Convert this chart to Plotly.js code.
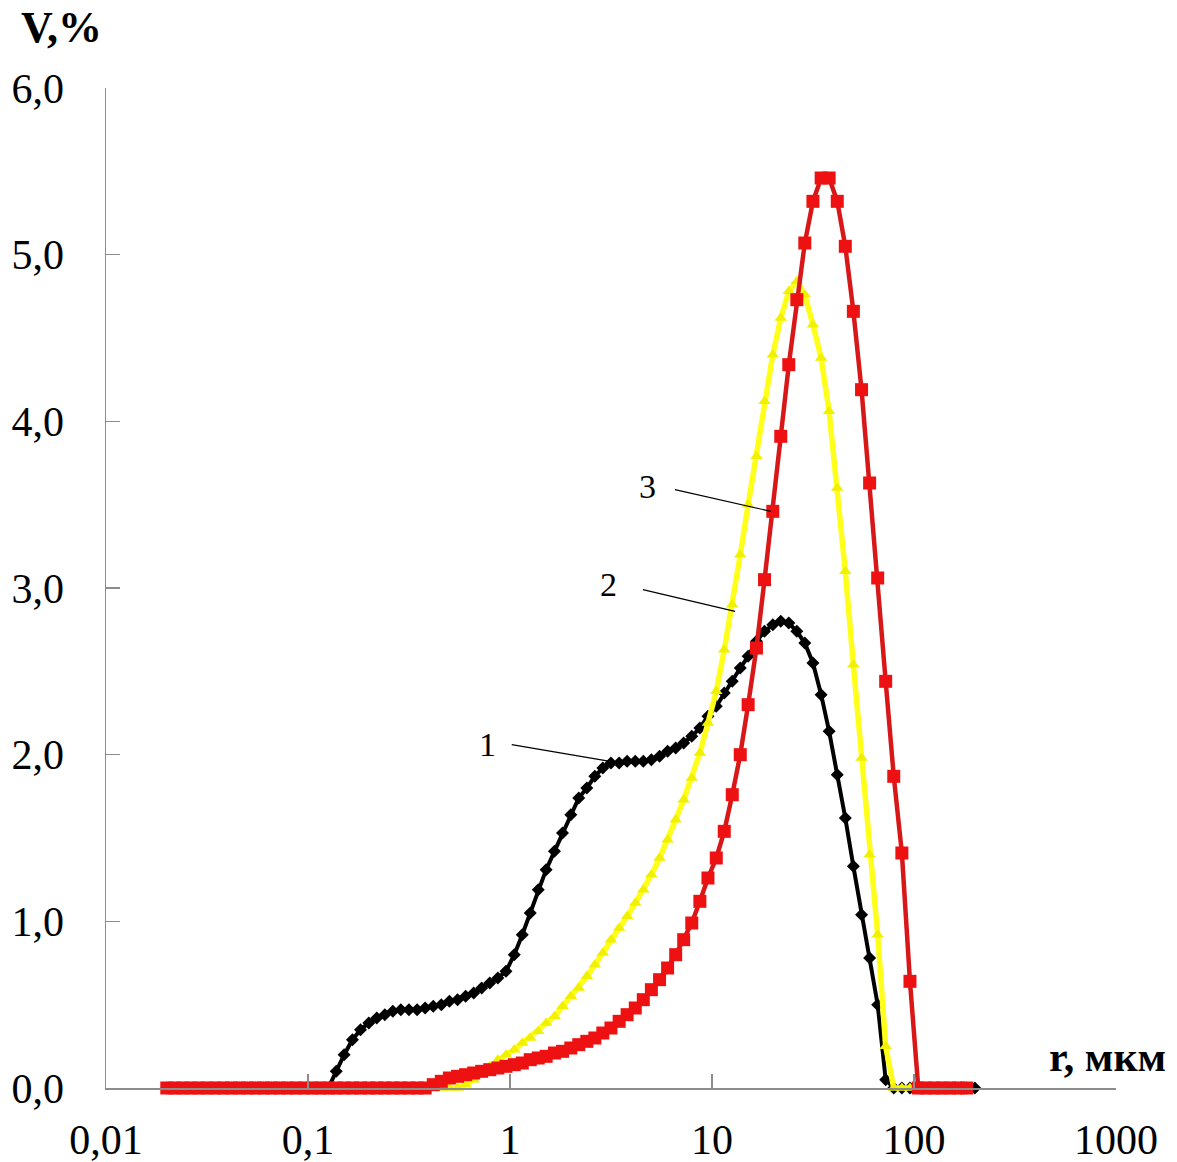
<!DOCTYPE html>
<html>
<head>
<meta charset="utf-8">
<script src="https://cdn.plot.ly/plotly-3.0.1.min.js"></script>
<style>html,body{margin:0;padding:0;background:#fff;}</style>
</head>
<body>
<div id="chart" style="width:1177px;height:1162px;"></div>
<script>
// particle radius, µm (log-spaced analyser bins)
const r = [0.0200,0.0219,0.0240,0.0263,0.0288,0.0316,0.0347,0.0380,0.0417,0.0457,0.0501,0.0550,0.0603,0.0661,0.0724,0.0794,0.0871,0.0955,
  0.105,0.115,0.126,0.138,0.151,0.166,0.182,0.200,0.219,0.240,0.263,0.288,0.316,0.347,0.380,0.417,0.457,0.501,0.550,0.603,0.661,0.724,0.794,0.871,0.955,
  1.05,1.15,1.26,1.38,1.51,1.66,1.82,2.00,2.19,2.40,2.63,2.88,3.16,3.47,3.80,4.17,4.57,5.01,5.50,6.03,6.61,7.24,7.94,8.71,9.55,
  10.5,11.5,12.6,13.8,15.1,16.6,18.2,20.0,21.9,24.0,26.3,28.8,31.6,34.7,38.0,41.7,45.7,50.1,55.0,60.3,66.1,72.4,79.4,87.1,95.5,
  105,115,126,138,151,166,182,200];

// curve 1 (black), V %
const v1 = [0,0,0,0,0,0,0,0,0,0,0,0,0,0,0,0,0,0,0,0,0,
  0.10,0.20,0.29,0.35,0.39,0.42,0.44,0.46,0.47,0.47,0.47,0.48,0.49,0.50,0.52,0.53,0.55,0.57,0.60,0.63,0.66,0.70,
  0.80,0.92,1.05,1.19,1.31,1.42,1.53,1.64,1.74,1.80,1.87,1.92,1.95,1.95,1.96,1.96,1.96,1.97,1.99,2.02,2.04,2.07,2.11,2.16,2.23,2.29,2.37,2.44,2.52,2.59,
  2.68,2.74,2.78,2.80,2.79,2.74,2.67,2.55,2.36,2.14,1.88,1.62,1.33,1.04,0.78,0.50,0.05,
  0,0,0,0,0,0,0,0,0,0,0];

// curve 2 (yellow), V %
const v2 = [0,0,0,0,0,0,0,0,0,0,0,0,0,0,0,0,0,0,0,0,0,0,0,0,0,0,0,0,0,0,0,0,0,0,0,0,0,
  0.02,0.05,0.09,0.13,0.17,0.20,0.23,0.27,0.30,0.34,0.39,0.43,0.49,0.55,0.60,0.67,0.74,0.81,0.89,0.96,1.03,1.11,1.19,1.28,1.38,1.49,1.61,1.73,1.86,2.01,2.19,2.38,2.63,2.90,3.20,3.50,3.79,4.12,4.40,4.62,4.78,4.84,4.76,4.58,4.38,4.06,3.60,3.10,2.54,1.98,1.40,0.92,0.25,
  0,0,0,0,0,0,0,0,0,0,null];

// curve 3 (red), V %
const v3 = [0,0,0,0,0,0,0,0,0,0,0,0,0,0,0,0,0,0,0,0,0,0,0,0,0,0,0,0,0,0,0,0,0,
  0.02,0.04,0.06,0.07,0.08,0.09,0.10,0.11,0.12,0.13,0.14,0.15,0.17,0.18,0.19,0.21,0.22,0.24,0.26,0.28,0.30,0.33,0.36,0.40,0.44,0.48,0.53,0.59,0.65,0.72,0.80,0.89,0.99,1.12,1.26,1.38,1.54,1.76,2.00,2.30,2.64,3.05,3.46,3.91,4.34,4.73,5.07,5.32,5.46,5.46,5.32,5.05,4.66,4.19,3.63,3.06,2.44,1.87,1.41,0.64,
  0,0,0,0,0,0,0,null];

const xTickVals = [0.01,0.1,1,10,100,1000];
const xTickText = ['0,01','0,1','1','10','100','1000'];
const yTickVals = [0,1,2,3,4,5,6];
const yTickText = ['0,0','1,0','2,0','3,0','4,0','5,0','6,0'];

const curveLabels = ['1','2','3'];
// label text positions (radius, V) and leader-line ends (from, to)
const labelPos = [[0.77,2.06],[3.09,3.02],[4.82,3.61]];
const leaderFrom = [[1.02,2.06],[4.55,2.99],[6.56,3.59]];
const leaderTo = [[3.13,1.96],[13.0,2.86],[19.6,3.46]];

const serif = '"Liberation Serif","Times New Roman",serif';

const traces = [
  {x: r, y: v1, type: 'scatter', mode: 'lines+markers', cliponaxis: false,
   line: {color: '#000000', width: 4},
   marker: {symbol: 'diamond', size: 10, color: '#000000'}},
  {x: r, y: v2, type: 'scatter', mode: 'lines+markers', cliponaxis: false,
   line: {color: '#ffff1a', width: 5.5},
   marker: {symbol: 'triangle-up', size: 11, color: '#f0f000'}},
  {x: r, y: v3, type: 'scatter', mode: 'lines+markers', cliponaxis: false,
   line: {color: '#d81818', width: 4.5},
   marker: {symbol: 'square', size: 13, color: '#ee1111'}}
];

const shapes = leaderFrom.map((p, i) => ({
  type: 'line', xref: 'x', yref: 'y',
  x0: p[0], y0: p[1], x1: leaderTo[i][0], y1: leaderTo[i][1],
  line: {color: '#000000', width: 1.2}
}));

const annotations = curveLabels.map((t, i) => ({
  text: t, xref: 'x', yref: 'y', x: Math.log10(labelPos[i][0]), y: labelPos[i][1],
  showarrow: false, font: {family: serif, size: 34, color: '#000'}
}));
annotations.push({text: '<b>V,%</b>', xref: 'paper', yref: 'paper', x: -0.0436, y: 1.061,
  xanchor: 'center', yanchor: 'middle',
  showarrow: false, font: {family: serif, size: 44, color: '#000'}});
annotations.push({text: '<b>r, мкм</b>', xref: 'paper', yref: 'paper', x: 1.0515, y: 0.031,
  xanchor: 'right', yanchor: 'middle', showarrow: false, font: {family: serif, size: 42, color: '#000'}});

const layout = {
  width: 1177, height: 1162,
  margin: {l: 106, r: 61, t: 88, b: 74},
  paper_bgcolor: '#ffffff', plot_bgcolor: '#ffffff',
  showlegend: false,
  font: {family: serif, color: '#000'},
  xaxis: {type: 'log', range: [-2, 3], tickvals: xTickVals, ticktext: xTickText,
    ticks: 'inside', ticklen: 14, tickwidth: 1.5, tickcolor: '#8c8c8c',
    showline: true, linecolor: '#8c8c8c', linewidth: 1.5, showgrid: false, zeroline: false,
    tickfont: {family: serif, size: 42, color: '#000'}, ticklabelstandoff: 14},
  yaxis: {range: [0, 6], tickvals: yTickVals, ticktext: yTickText,
    ticks: 'inside', ticklen: 14, tickwidth: 1.5, tickcolor: '#8c8c8c',
    showline: true, linecolor: '#8c8c8c', linewidth: 1.5, showgrid: false, zeroline: false,
    tickfont: {family: serif, size: 42, color: '#000'}, ticklabelstandoff: 32},
  shapes: shapes,
  annotations: annotations
};

Plotly.newPlot('chart', traces, layout, {displayModeBar: false, staticPlot: true});
</script>
</body>
</html>
